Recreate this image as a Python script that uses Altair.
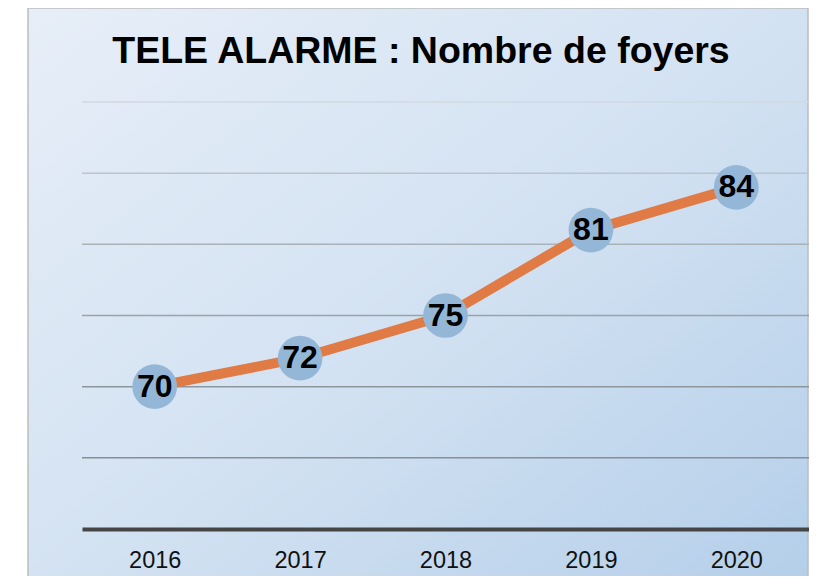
import altair as alt
import pandas as pd

# ---- data ----
YEARS = ["2016", "2017", "2018", "2019", "2020"]
VALUES = [70, 72, 75, 81, 84]
GRID_VALUES = [65, 70, 75, 80, 85, 90]
Y_DOMAIN = [60, 90]
TITLE = "TELE ALARME : Nombre de foyers"

# ---- styling ----
GRID_COLORS = ["#868e96", "#8d959d", "#9aa2aa", "#a9b1b9", "#bcc4cb", "#d3d9df"]
FONT = "Liberation Sans"
W, H = 727, 427
PAD = {"left": 74, "top": 94, "right": 0, "bottom": 47}

df = pd.DataFrame({"year": YEARS, "value": VALUES})
grid_df = pd.DataFrame({"g": GRID_VALUES})

y_scale = alt.Scale(domain=Y_DOMAIN, nice=False, zero=False)
x_enc = alt.X(
    "year:O",
    axis=alt.Axis(
        title=None, labelAngle=0, ticks=False, tickSize=0, labelPadding=38,
        labelBaseline="alphabetic", labelFont=FONT, labelFontSize=23.5,
        labelColor="#111111", domainColor="#454545", domainWidth=4,
        grid=False, zindex=1,
    ),
)
y_enc = alt.Y("value:Q", scale=y_scale, axis=None)

gradient = {
    "gradient": "linear", "x1": 0, "y1": 0, "x2": 1, "y2": 1,
    "stops": [
        {"offset": 0, "color": "#e7eef8"},
        {"offset": 0.5, "color": "#d3e2f2"},
        {"offset": 1, "color": "#b3cee9"},
    ],
}

bg = alt.Chart(pd.DataFrame({"k": [0]})).mark_rect(
    fill=gradient, stroke="#bdbdbd", strokeWidth=1.5
).encode(
    x=alt.value(-54), x2=alt.value(W - 1), y=alt.value(-94), y2=alt.value(H + 80)
)

grid = alt.Chart(grid_df).mark_rule(strokeWidth=1.5).encode(
    y=alt.Y("g:Q", scale=y_scale, axis=None),
    color=alt.Color("g:O", scale=alt.Scale(domain=GRID_VALUES, range=GRID_COLORS), legend=None),
)

base = alt.Chart(df).encode(x=x_enc, y=y_enc)
line = base.mark_line(color="#e07b45", strokeWidth=10)
points = base.mark_circle(size=2000, color="#95b7d7", opacity=1)
labels = base.mark_text(
    font=FONT, fontSize=32, fontWeight="bold", color="black",
    align="center", baseline="middle",
).encode(text="value:Q")

title = alt.Chart(pd.DataFrame({"t": [TITLE]})).mark_text(
    font=FONT, fontSize=37.5, fontWeight="bold", color="black",
    align="center", baseline="alphabetic",
).encode(text="t:N", x=alt.value(339), y=alt.value(-39))

chart = alt.layer(bg, grid, line, points, labels, title).properties(
    width=W, height=H, padding=PAD,
    autosize=alt.AutoSizeParams(type="none"),
).configure_view(stroke=None)

chart.save("out.html", embed_options={"renderer": "svg", "actions": False})
